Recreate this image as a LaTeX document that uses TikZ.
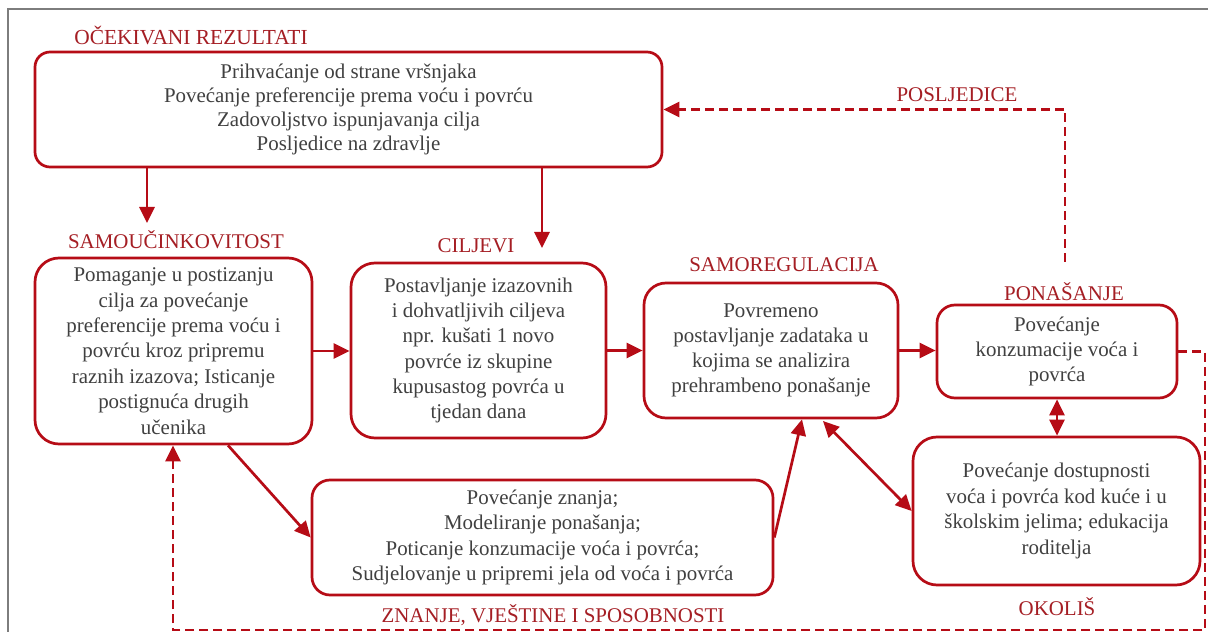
\documentclass[tikz,border=0pt]{standalone}
\usepackage{fontspec}
\setmainfont{Liberation Serif}
\usetikzlibrary{arrows.meta}
\definecolor{boxred}{RGB}{182,12,22}
\definecolor{labred}{RGB}{165,30,36}
\definecolor{txt}{RGB}{64,64,64}
\definecolor{framegray}{RGB}{125,125,125}
\begin{document}
\begin{tikzpicture}[x=1bp,y=-1bp,
  box/.style={draw=boxred, line width=2.7bp, rounded corners=20bp, align=center, text=txt, inner sep=0pt},
  lab/.style={text=labred, font=\fontsize{21}{24}\selectfont, inner sep=0pt, anchor=base},
  tip/.style={-{Triangle[length=16bp,width=15bp]}},
  arr/.style={draw=boxred, line width=2.7bp, tip},
  darr/.style={draw=boxred, line width=2.7bp, {Triangle[length=16bp,width=15bp]}-{Triangle[length=16bp,width=15bp]}},
  dsh/.style={draw=boxred, line width=2.7bp, dash pattern=on 9bp off 5bp, tip}
]
\useasboundingbox (0,0) rectangle (1208,632);
\fill[white] (0,0) rectangle (1208,632);
\draw[framegray, line width=2bp] (8,9) rectangle (1220,645);

% boxes
\node[box, rounded corners=15bp, minimum width=627bp, minimum height=115bp,
  font=\fontsize{21}{24.3}\selectfont] (top) at (348.5,109.5)
  {Prihvaćanje od strane vršnjaka\\Povećanje preferencije prema voću i povrću\\Zadovoljstvo ispunjavanja cilja\\Posljedice na zdravlje};
\node[box, rounded corners=24bp, minimum width=277bp, minimum height=186bp,
  font=\fontsize{21}{25.5}\selectfont] (sam) at (173.5,351)
  {Pomaganje u postizanju\\cilja za povećanje\\preferencije prema voću i\\povrću kroz pripremu\\raznih izazova; Isticanje\\postignuća drugih\\učenika};
\node[box, rounded corners=24bp, minimum width=255bp, minimum height=175bp,
  font=\fontsize{21}{25.4}\selectfont] (cil) at (478.5,350.5)
  {Postavljanje izazovnih\\i dohvatljivih ciljeva\\npr. kušati 1 novo\\povrće iz skupine\\kupusastog povrća u\\tjedan dana};
\node[box, rounded corners=22bp, minimum width=254bp, minimum height=135bp,
  font=\fontsize{21}{25}\selectfont] (samo) at (771,350.5)
  {Povremeno\\postavljanje zadataka u\\kojima se analizira\\prehrambeno ponašanje};
\node[box, rounded corners=18bp, minimum width=240bp, minimum height=93bp,
  font=\fontsize{21}{25.5}\selectfont] (pon) at (1057,351.5)
  {Povećanje\\konzumacije voća i\\povrća};
\node[box, rounded corners=24bp, minimum width=287bp, minimum height=148bp,
  font=\fontsize{21}{25.6}\selectfont] (oko) at (1056.5,511)
  {Povećanje dostupnosti\\voća i povrća kod kuće i u\\školskim jelima; edukacija\\roditelja};
\node[box, rounded corners=18bp, minimum width=461bp, minimum height=115bp,
  font=\fontsize{21}{25.3}\selectfont] (zna) at (542.5,537.5)
  {Povećanje znanja;\\Modeliranje ponašanja;\\Poticanje konzumacije voća i povrća;\\Sudjelovanje u pripremi jela od voća i povrća};

% labels
\node[lab, font=\fontsize{21.5}{24}\selectfont] (lOce) at (191,45) {OČEKIVANI REZULTATI};
\node[lab] (lPos) at (957,102) {POSLJEDICE};
\node[lab] (lSam) at (176,249) {SAMOUČINKOVITOST};
\node[lab] (lCil) at (476,253) {CILJEVI};
\node[lab] (lSr) at (784,272) {SAMOREGULACIJA};
\node[lab] (lPon) at (1064,301) {PONAŠANJE};
\node[lab] (lZna) at (553,622) {ZNANJE, VJEŠTINE I SPOSOBNOSTI};
\node[lab] (lOko) at (1057,615) {OKOLIŠ};

% coordinates
\coordinate (aA) at (147,223);
\coordinate (aB) at (542,248);
\coordinate (so) at (823,421);
\coordinate (zs) at (228,0);
\coordinate (zt) at (802,0);
\coordinate (ps) at (1065,262);
\coordinate (rr) at (1205,630);
\coordinate (ll) at (173,630);

% connectors
\draw[arr] (top.south -| aA) -- (aA);
\draw[arr] (top.south -| aB) -- (aB);
\draw[arr] (sam.east) -- (sam.east -| cil.west);
\draw[arr] (cil.east) -- (cil.east -| samo.west);
\draw[arr] (samo.east) -- (samo.east -| pon.west);
\draw[darr] (pon.south) -- (pon.south |- oko.north);
\draw[darr] (so) -- (oko.west);
\draw[arr] (sam.south -| zs) -- (zna.west);
\draw[arr] (zna.east) -- (samo.south -| zt);
\draw[dsh] (ps) |- (top.east);
\draw[dsh] (pon.east) -- (pon.east -| rr) -- (rr) -- (ll) -- (sam.south -| ll);
\end{tikzpicture}
\end{document}
